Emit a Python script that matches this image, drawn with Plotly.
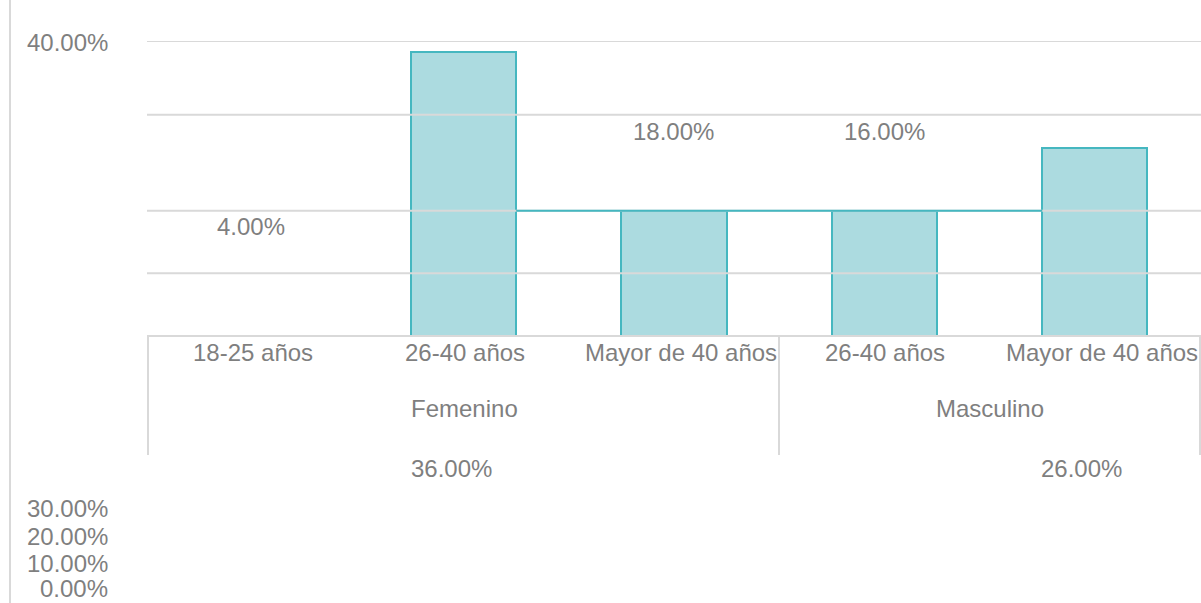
import plotly.graph_objects as go

# ---- data ----
age_groups = ["18-25 años", "26-40 años", "Mayor de 40 años", "26-40 años", "Mayor de 40 años"]
genders = ["Femenino", "Masculino"]
percent_values = [4.0, 36.0, 18.0, 16.0, 26.0]          # data-label values (%)
bar_heights = [None, 38.5, 17.0, 17.0, 25.5]            # bar heights as drawn in the picture (%)
grid_values = [8.5, 17.0, 30.0, 40.0]                   # gridline levels as drawn
tick_labels_top = ["40.00%"]
tick_labels_bottom = ["30.00%", "20.00%", "10.00%", "0.00%"]

W, H = 1201, 603
def px(x): return x / W
def py(y): return 1 - y / H

FONT = "Liberation Sans, Arial, sans-serif"
TXT = "#7f7f7f"
GRID = "#d9d9d9"
FILL = "#acdbe0"
EDGE = "#45b7c0"
FS = 24

x_idx = list(range(len(age_groups)))

fig = go.Figure()
fig.add_trace(go.Bar(
    x=x_idx, y=bar_heights, width=0.5,
    marker=dict(color=FILL, line=dict(color=EDGE, width=2)),
    hoverinfo="skip", showlegend=False,
))

shapes = []
# gridlines (drawn over bars, as in the picture)
for g in grid_values:
    shapes.append(dict(type="line", xref="paper", yref="y", x0=px(147), x1=1, y0=g, y1=g,
                       line=dict(color=GRID, width=2), layer="above"))
# step connector line at the bar tops
shapes.append(dict(type="line", xref="x", yref="y", x0=1.25, x1=3.75, y0=bar_heights[2], y1=bar_heights[2],
                   line=dict(color=EDGE, width=2), layer="above"))
# category axis box
shapes.append(dict(type="line", xref="paper", yref="paper", x0=px(147), x1=1, y0=py(336), y1=py(336),
                   line=dict(color=GRID, width=2)))
for xv in [148, 779, 1200]:
    shapes.append(dict(type="line", xref="paper", yref="paper", x0=px(xv), x1=px(xv), y0=py(336), y1=py(455),
                       line=dict(color=GRID, width=2)))
# left value-axis line
shapes.append(dict(type="line", xref="paper", yref="paper", x0=px(10), x1=px(10), y0=0, y1=1,
                   line=dict(color=GRID, width=2)))

ann = []
def text(t, x, y, xanchor="center", yanchor="middle"):
    ann.append(dict(text=t, x=x, y=y, xref="paper", yref="paper", xanchor=xanchor, yanchor=yanchor,
                    showarrow=False, borderpad=0, font=dict(family=FONT, size=FS, color=TXT)))

# value-axis tick labels (split in the picture)
text(tick_labels_top[0], px(109), py(42), xanchor="right")
for lbl, yy in zip(tick_labels_bottom[:3], [508, 536, 563]):
    text(lbl, px(109), py(yy), xanchor="right")
text(tick_labels_bottom[3], px(109), 0, xanchor="right", yanchor="bottom")

# category labels
cat_x = [253, 465, 681, 885, 1102]
for lbl, cx in zip(age_groups, cat_x):
    text(lbl, px(cx), py(352))
text(genders[0], px(464), py(408))
text(genders[1], px(990), py(408))

# data labels (misplaced as in picture)
lab_pos = [(251, 227), (451, 468), (673, 131), (884, 131), (1081, 468)]
for v, (lx, ly) in zip(percent_values, lab_pos):
    text(f"{v:.2f}%", px(lx), py(ly))

fig.update_layout(
    width=W, height=H,
    margin=dict(l=0, r=0, t=0, b=0),
    paper_bgcolor="white", plot_bgcolor="white",
    xaxis=dict(domain=[px(148), px(1200)], range=[-0.5, 4.5], showgrid=False, zeroline=False,
               showticklabels=False, showline=False, fixedrange=True),
    yaxis=dict(domain=[py(336), py(41)], range=[0, 40], showgrid=False, zeroline=False,
               showticklabels=False, showline=False, fixedrange=True),
    shapes=shapes, annotations=ann, bargap=0,
)

fig.write_html("out.html", config={"displayModeBar": False},
               post_script="document.body.style.margin='0';document.body.style.overflow='hidden';")
